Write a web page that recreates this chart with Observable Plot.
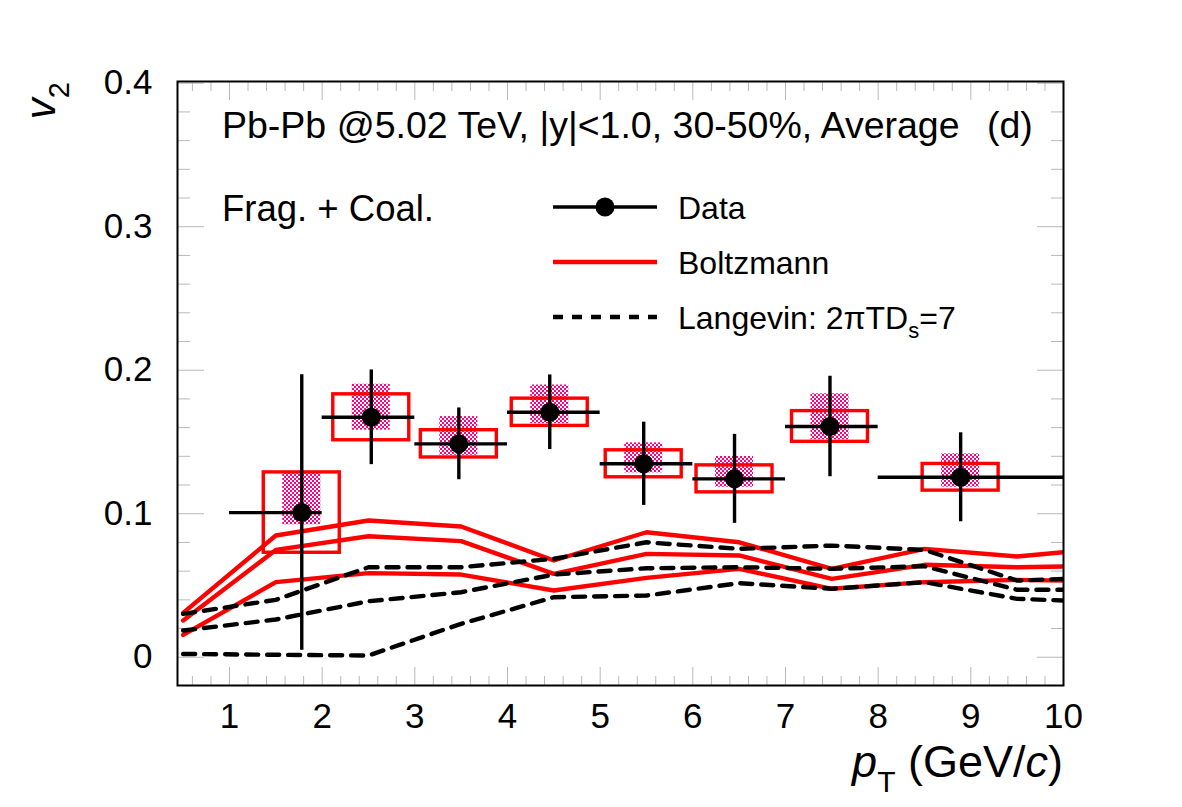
<!DOCTYPE html>
<html>
<head>
<meta charset="utf-8">
<script src="https://cdn.jsdelivr.net/npm/d3@7"></script>
<script src="https://cdn.jsdelivr.net/npm/@observablehq/plot@0.6"></script>
<style>
  body { margin: 0; background: #fff; }
  #chart svg { font-family: "Liberation Sans", Arial, Helvetica, sans-serif; }
</style>
</head>
<body>
<div id="chart"></div>
<script>
// ---- measured D-meson v2 (Pb-Pb 5.02 TeV, 30-50%) ----
const dataPt     = [1.78, 2.53, 3.475, 4.456, 5.47, 6.45, 7.48, 8.89];
const dataV2     = [0.1008, 0.1672, 0.1487, 0.1707, 0.1348, 0.1243, 0.1608, 0.1254];
const binLow     = [1, 2, 3, 4, 5, 6, 7, 8];
const binHigh    = [2, 3, 4, 5, 6, 7, 8, 10];
const statErr    = [0.096, 0.033, 0.025, 0.026, 0.029, 0.031, 0.035, 0.031];
const systErr    = [0.028, 0.016, 0.0095, 0.0095, 0.0094, 0.0094, 0.0107, 0.0093];
const b2bErrDown = [0.0085, 0.009, 0.008, 0.008, 0.0063, 0.0058, 0.0093, 0.0069];
const b2bErrUp   = [0.0277, 0.023, 0.019, 0.019, 0.0146, 0.0156, 0.0228, 0.0163];

// ---- model curves ----
const modelPt    = [0.5, 1.5, 2.5, 3.5, 4.5, 5.5, 6.5, 7.5, 8.5, 9.5, 10];
const boltzHigh  = [0.0309, 0.0848, 0.0953, 0.0911, 0.0674, 0.0871, 0.0801, 0.0616, 0.0755, 0.0702, 0.0732];
const boltzMid   = [0.0256, 0.0748, 0.0843, 0.0809, 0.0581, 0.0720, 0.0709, 0.0546, 0.0644, 0.0627, 0.0632];
const boltzLow   = [0.0156, 0.0523, 0.0586, 0.0576, 0.0465, 0.0553, 0.0616, 0.0477, 0.0523, 0.0539, 0.0534];
const langHigh   = [0.0302, 0.0400, 0.0627, 0.0627, 0.0686, 0.0801, 0.0755, 0.0778, 0.0748, 0.0534, 0.0546];
const langMid    = [0.0186, 0.0263, 0.0390, 0.0453, 0.0576, 0.0620, 0.0627, 0.0616, 0.0634, 0.0470, 0.0470];
const langLow    = [0.0023, 0.0017, 0.0012, 0.0233, 0.0418, 0.0430, 0.0516, 0.0477, 0.0523, 0.0407, 0.0395];

// ---- axis ticks ----
const xMajor = [1, 2, 3, 4, 5, 6, 7, 8, 9, 10];
const xLabels = ["1", "2", "3", "4", "5", "6", "7", "8", "9", "10"];
const yMajor = [0, 0.1, 0.2, 0.3, 0.4];
const yLabels = ["0", "0.1", "0.2", "0.3", "0.4"];
const xMinor = d3.range(6, 100, 2).map(d => d / 10).filter(d => !Number.isInteger(d));
const yMinor = d3.range(0, 41, 2).filter(d => d % 10 !== 0).map(d => d / 100);

const legendLabels = ["Data", "Boltzmann", "Langevin"];

// ---- tables for the marks ----
const points = dataPt.map((x, i) => ({
  x, v: dataV2[i], lo: binLow[i], hi: binHigh[i],
  stat: statErr[i], syst: systErr[i], dn: b2bErrDown[i], up: b2bErrUp[i]
}));
const curve = (vals) => modelPt.map((x, i) => ({x, v: vals[i]}));

const RED = "#ff0000";
const PINK = "#ff0080";
const TICK = "#b9b9b9";
const FONT = "Liberation Sans, Arial, Helvetica, sans-serif";
const LW = 4.4;
const DASH = "12,9";
const systHalf = 0.41, b2bHalf = 0.205;
const noText = () => "";

// inward tick marks only (no labels)
const ticksOnly = (axis, anchor, ticks, size) =>
  axis({anchor, ticks, tickSize: -size, tickFormat: noText, label: null, stroke: TICK});

const plot = Plot.plot({
  width: 1182,
  height: 807,
  marginLeft: 177,
  marginRight: 119,
  marginTop: 81,
  marginBottom: 122,
  style: {fontFamily: FONT, background: "white", color: "black", overflow: "visible"},
  x: {domain: [0.439, 10]},
  y: {domain: [-0.0197, 0.4012]},
  marks: [
    ticksOnly(Plot.axisX, "bottom", xMinor, 9),
    ticksOnly(Plot.axisX, "bottom", xMajor, 18),
    ticksOnly(Plot.axisX, "top", xMinor, 9),
    ticksOnly(Plot.axisX, "top", xMajor, 18),
    ticksOnly(Plot.axisY, "left", yMinor, 13),
    ticksOnly(Plot.axisY, "left", yMajor, 27),
    ticksOnly(Plot.axisY, "right", yMinor, 13),
    ticksOnly(Plot.axisY, "right", yMajor, 27),
    // tick labels
    Plot.axisX({anchor: "bottom", ticks: xMajor, tickSize: 0, tickPadding: 18, fontSize: 35,
      tickFormat: (d) => xLabels[xMajor.indexOf(d)], label: null}),
    Plot.axisY({anchor: "left", ticks: yMajor, tickSize: 0, tickPadding: 25, fontSize: 35,
      tickFormat: (d) => yLabels[yMajor.indexOf(d)], label: null}),

    // Boltzmann model band (three curves)
    ...[boltzHigh, boltzMid, boltzLow].map(vals =>
      Plot.line(curve(vals), {x: "x", y: "v", stroke: RED, strokeWidth: LW, clip: true})),
    // Langevin model band (three curves)
    ...[langHigh, langMid, langLow].map(vals =>
      Plot.line(curve(vals), {x: "x", y: "v", stroke: "black", strokeWidth: LW,
        strokeDasharray: DASH, clip: true})),

    // bin-to-bin correlated systematics (checker fill)
    Plot.rect(points, {x1: d => d.x - b2bHalf, x2: d => d.x + b2bHalf,
      y1: d => d.v - d.dn, y2: d => d.v + d.up, fill: "url(#b2b-hatch)"}),
    // systematic boxes
    Plot.rect(points, {x1: d => d.x - systHalf, x2: d => d.x + systHalf,
      y1: d => d.v - d.syst, y2: d => d.v + d.syst, fill: "none", stroke: RED, strokeWidth: 3.4}),
    // statistical error bars and bin widths
    Plot.ruleX(points, {x: "x", y1: d => d.v - d.stat, y2: d => d.v + d.stat, stroke: "black", strokeWidth: 3.4}),
    Plot.ruleY(points, {y: "v", x1: "lo", x2: "hi", stroke: "black", strokeWidth: 3.4}),
    Plot.dot(points, {x: "x", y: "v", r: 9.5, fill: "black", stroke: "none"}),

    Plot.frame({stroke: "black", strokeWidth: 2})
  ]
});

const svg = d3.select(plot);
// drop the empty label nodes of the tick-only axes
svg.selectAll("text").filter(function () { return this.textContent === ""; }).remove();

// checker pattern for the correlated systematics
const defs = svg.insert("defs", ":first-child");
const pat = defs.append("pattern").attr("id", "b2b-hatch")
  .attr("patternUnits", "userSpaceOnUse").attr("width", 4).attr("height", 4);
pat.append("rect").attr("width", 4).attr("height", 4).attr("fill", "#ffffff");
pat.append("rect").attr("width", 2).attr("height", 2).attr("fill", PINK);
pat.append("rect").attr("x", 2).attr("y", 2).attr("width", 2).attr("height", 2).attr("fill", PINK);

const ann = svg.append("g").attr("font-family", FONT).attr("fill", "black").attr("text-anchor", "start");

// header lines
const head = ann.append("text").attr("x", 222).attr("y", 138).attr("font-size", 37.5);
head.append("tspan").text("Pb-Pb @5.02 TeV, |y|<1.0, 30-50%, Average");
head.append("tspan").attr("x", 987).text("(d)");
ann.append("text").attr("x", 222).attr("y", 221).attr("font-size", 36.5)
  .text("Frag. + Coal.");

// legend
const legY = [207, 262, 317];
const lx1 = 553, lx2 = 657, ltx = 678;
ann.append("line").attr("x1", lx1).attr("x2", lx2).attr("y1", legY[0]).attr("y2", legY[0])
  .attr("stroke", "black").attr("stroke-width", 3.4);
ann.append("circle").attr("cx", (lx1 + lx2) / 2).attr("cy", legY[0]).attr("r", 9.5).attr("fill", "black");
ann.append("line").attr("x1", lx1).attr("x2", lx2).attr("y1", legY[1]).attr("y2", legY[1])
  .attr("stroke", RED).attr("stroke-width", LW);
ann.append("line").attr("x1", lx1).attr("x2", lx2).attr("y1", legY[2]).attr("y2", legY[2])
  .attr("stroke", "black").attr("stroke-width", LW).attr("stroke-dasharray", "10,9");

ann.append("text").attr("x", ltx).attr("y", legY[0]).attr("dy", "0.36em").attr("font-size", 32).text(legendLabels[0]);
ann.append("text").attr("x", ltx).attr("y", legY[1]).attr("dy", "0.36em").attr("font-size", 32).text(legendLabels[1]);
const lang = ann.append("text").attr("x", ltx).attr("y", legY[2]).attr("dy", "0.36em").attr("font-size", 32);
lang.append("tspan").text(legendLabels[2] + ": 2\u03c0TD");
lang.append("tspan").attr("font-size", 22).attr("dy", 9).text("s");
lang.append("tspan").attr("dy", -9).attr("font-size", 32).text("=7");

// x-axis title
const xt = ann.append("text").attr("x", 1063).attr("y", 777).attr("text-anchor", "end").attr("font-size", 45);
xt.append("tspan").attr("font-style", "italic").text("p");
xt.append("tspan").attr("font-size", 30).attr("dy", 15).text("T");
xt.append("tspan").attr("dy", -15).text(" (GeV/");
xt.append("tspan").attr("font-style", "italic").text("c");
xt.append("tspan").text(")");

// y-axis title
const yt = ann.append("text").attr("transform", "translate(55,82) rotate(-90)")
  .attr("text-anchor", "end").attr("font-size", 42);
yt.append("tspan").attr("font-style", "italic").text("v");
yt.append("tspan").attr("font-size", 29).attr("dy", 14).text("2");

document.getElementById("chart").appendChild(plot);
</script>
</body>
</html>
